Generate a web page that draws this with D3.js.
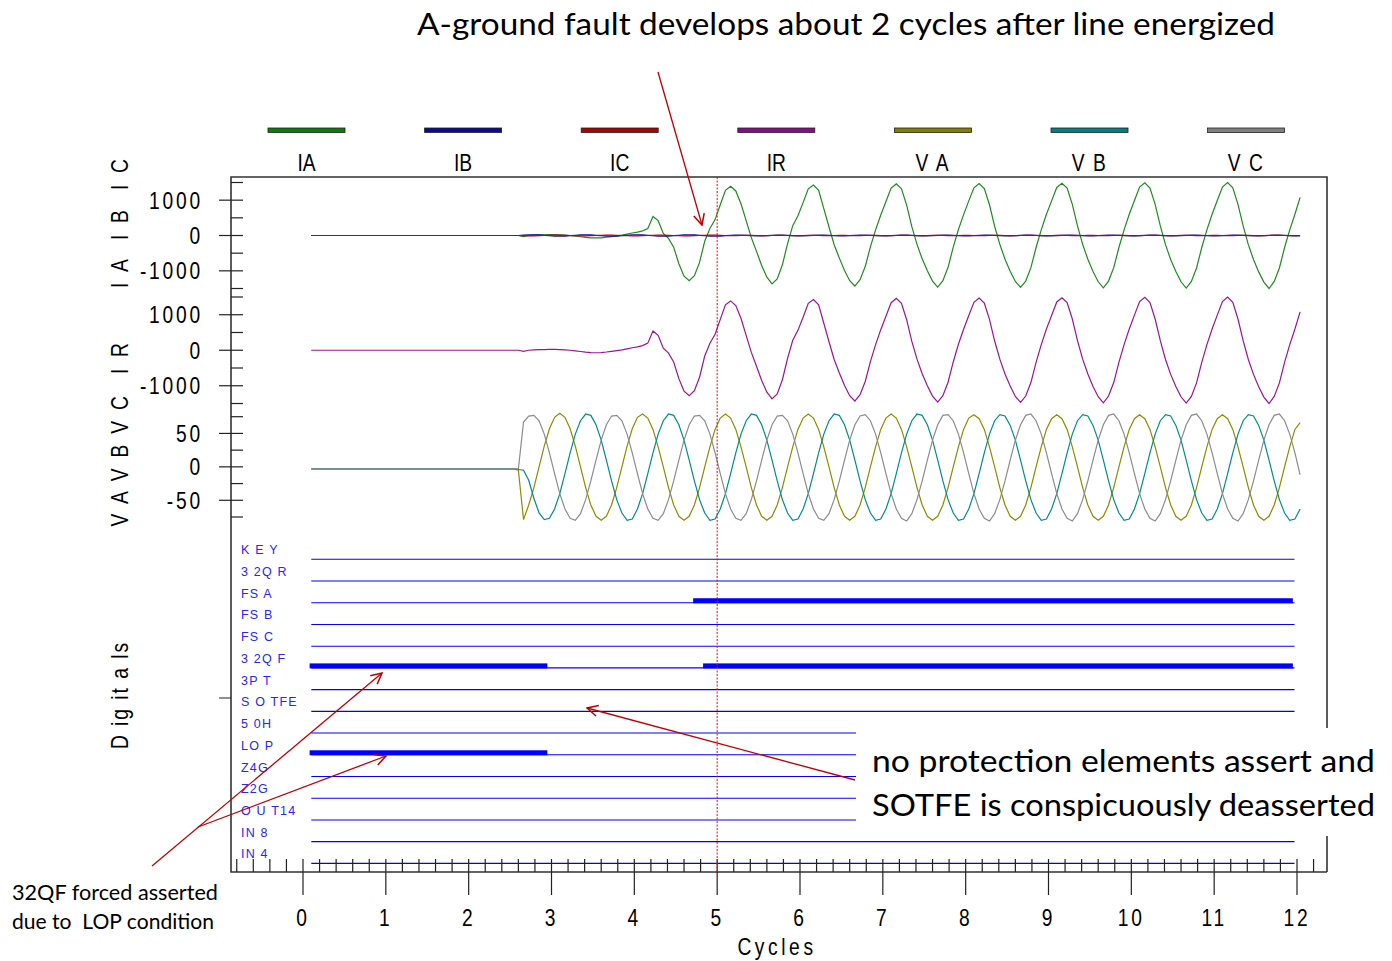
<!DOCTYPE html>
<html><head><meta charset="utf-8">
<script src="https://cdn.jsdelivr.net/npm/d3@7"></script>
<style>
body{margin:0;background:#fff}
svg{display:block}
.nar{font-family:'Liberation Sans',Arial,sans-serif}
.note{font-family:Lato,'Open Sans',sans-serif}
</style></head><body>
<div id="chart"></div>
<script>
// event report, 16 samples per cycle, first sample at 0.1 cycles
const t0 = 0.1, spc = 16;

const IA = [
  0,0,0,0,0,0,0,0,0,0,0,0,0,0,0,0,
  0,0,0,0,0,0,0,0,0,0,0,0,0,0,0,0,
  0,0,0,0,0,0,0,0,0,-30,0,10,15,20,25,25,
  20,10,0,-15,-35,-55,-65,-70,-65,-50,-30,-10,10,40,70,95,
  130,200,540,420,60,-80,-330,-800,-1150,-1280,-1140,-760,-160,200,450,870,
  1280,1390,1260,900,420,-60,-450,-850,-1180,-1370,-1230,-830,-230,280,560,930,
  1320,1430,1280,760,240,-260,-640,-990,-1280,-1430,-1250,-880,-320,160,580,960,
  1340,1460,1320,860,250,-250,-660,-1000,-1290,-1460,
  -1280,-900,-330,170,590,980,1350,1470,1330,870,260,-250,-670,-1010,-1300,-1470,
  -1290,-910,-340,160,600,980,1360,1480,1340,880,270,-250,-670,-1020,-1310,-1480,
  -1290,-910,-340,160,600,990,1370,1490,1340,880,270,-260,-680,-1020,-1310,-1490,
  -1300,-920,-340,160,600,990,1370,1500,1350,880,270,-260,-680,-1030,-1320,-1500,
  -1300,-920,-340,160,600,1080
];
const IB = [
  0,0,0,0,0,0,0,0,0,0,0,0,0,0,0,0,
  0,0,0,0,0,0,0,0,0,0,0,0,0,0,0,0,
  0,0,0,0,0,0,0,0,0,10,15,20,15,5,-5,-15,
  -20,-15,-5,5,15,20,15,5,-5,-15,-20,-15,-5,5,15,20,
  15,5,-5,-15,-20,-15,-5,5,15,20,15,5,-5,-15,-20,-15,
  -5,5,10,10,5,-5,-10,-10,-5,5,10,10,5,-5,-10,-10,
  -5,5,10,10,5,-5,-10,-10,-5,5,10,10,5,-5,-10,-10,
  -5,5,10,10,5,-5,-10,-10,-5,5,10,10,5,-5,-10,-10,
  -5,5,10,10,5,-5,-10,-10,-5,5,10,10,5,-5,-10,-10,
  -5,5,10,10,5,-5,-10,-10,-5,5,10,10,5,-5,-10,-10,
  -5,5,10,10,5,-5,-10,-10,-5,5,10,10,5,-5,-10,-10,
  -5,5,10,10,5,-5,-10,-10,-5,5,10,10,5,-5,-10,-10
];
const IC = [
  0,0,0,0,0,0,0,0,0,0,0,0,0,0,0,0,
  0,0,0,0,0,0,0,0,0,0,0,0,0,0,0,0,
  0,0,0,0,0,0,0,0,0,-5,-10,-10,-5,0,5,10,
  10,5,0,-5,-10,-10,-5,0,5,10,10,5,0,-5,-10,-10,
  -5,0,5,10,10,5,0,-5,-10,-10,-5,0,5,10,10,5,
  0,-5,-5,0,5,5,0,-5,-5,0,5,5,0,-5,-5,0,
  5,5,0,-5,-5,0,5,5,0,-5,-5,0,5,5,0,-5,
  -5,0,5,5,0,-5,-5,0,5,5,0,-5,-5,0,5,5,
  0,-5,-5,0,5,5,0,-5,-5,0,5,5,0,-5,-5,0,
  5,5,0,-5,-5,0,5,5,0,-5,-5,0,5,5,0,-5,
  -5,0,5,5,0,-5,-5,0,5,5,0,-5,-5,0,5,5,
  0,-5,-5,0,5,5,0,-5,-5,0,5,5,0,-5,-5,0
];
const IR = [
  0,0,0,0,0,0,0,0,0,0,0,0,0,0,0,0,
  0,0,0,0,0,0,0,0,0,0,0,0,0,0,0,0,
  0,0,0,0,0,0,0,0,0,-30,0,10,15,20,25,25,
  20,10,0,-15,-35,-55,-65,-70,-65,-50,-30,-10,10,40,70,95,
  130,200,540,420,60,-80,-330,-800,-1150,-1280,-1140,-760,-160,200,450,870,
  1280,1390,1260,900,420,-60,-450,-850,-1180,-1370,-1230,-830,-230,280,560,930,
  1320,1430,1280,760,240,-260,-640,-990,-1280,-1430,-1250,-880,-320,160,580,960,
  1340,1460,1320,860,250,-250,-660,-1000,-1290,-1460,
  -1280,-900,-330,170,590,980,1350,1470,1330,870,260,-250,-670,-1010,-1300,-1470,
  -1290,-910,-340,160,600,980,1360,1480,1340,880,270,-250,-670,-1020,-1310,-1480,
  -1290,-910,-340,160,600,990,1370,1490,1340,880,270,-260,-680,-1020,-1310,-1490,
  -1300,-920,-340,160,600,990,1370,1500,1350,880,270,-260,-680,-1030,-1320,-1500,
  -1300,-920,-340,160,600,1080
];
const VA = [
  -3,-3,-3,-3,-3,-3,-3,-3,-3,-3,-3,-3,-3,-3,-3,-3,
  -3,-3,-3,-3,-3,-3,-3,-3,-3,-3,-3,-3,-3,-3,-3,-3,
  -3,-3,-3,-3,-3,-3,-3,-3,-5,-79,-57,-31,0,31,57,74,
  80,74,57,31,0,-31,-57,-74,-80,-74,-57,-31,0,31,57,74,
  79,73,56,30,0,-31,-57,-74,-80,-74,-57,-31,0,30,56,73,
  79,73,56,30,0,-31,-57,-74,-80,-74,-57,-31,0,30,56,73,
  79,73,56,30,0,-31,-57,-74,-80,-74,-57,-31,0,30,56,73,
  79,73,56,30,0,-31,-57,-74,-80,-74,-57,-31,0,30,56,73,
  78,72,56,30,0,-31,-57,-74,-80,-74,-57,-31,0,30,56,72,
  78,72,56,30,0,-31,-57,-74,-80,-74,-57,-31,0,30,56,72,
  78,72,56,30,0,-31,-57,-74,-80,-74,-57,-31,0,30,56,72,
  78,72,56,30,0,-31,-57,-74,-80,-74,-57,-31,0,30,56,66
];
const VB = [
  -3,-3,-3,-3,-3,-3,-3,-3,-3,-3,-3,-3,-3,-3,-3,-3,
  -3,-3,-3,-3,-3,-3,-3,-3,-3,-3,-3,-3,-3,-3,-3,-3,
  -3,-3,-3,-3,-3,-3,-3,-3,-4,-5,-20,-47,-69,-79,-77,-63,
  -40,-10,21,49,69,79,77,63,40,10,-21,-49,-69,-80,-78,-63,
  -40,-10,21,49,69,79,77,63,40,10,-21,-49,-69,-80,-78,-63,
  -40,-10,21,49,69,79,77,63,40,10,-21,-49,-69,-80,-78,-63,
  -40,-10,21,49,69,79,77,63,40,10,-21,-49,-69,-80,-78,-63,
  -40,-10,21,49,69,79,77,63,40,10,-21,-49,-69,-80,-78,-63,
  -40,-10,21,49,69,78,76,62,40,10,-21,-49,-69,-80,-78,-63,
  -40,-10,21,49,69,78,76,62,40,10,-21,-49,-69,-80,-78,-63,
  -40,-10,21,49,69,78,76,62,40,10,-21,-49,-69,-80,-78,-63,
  -40,-10,21,49,69,78,76,62,40,10,-21,-49,-69,-80,-78,-63
];
const VC = [
  -3,-3,-3,-3,-3,-3,-3,-3,-3,-3,-3,-3,-3,-3,-3,-3,
  -3,-3,-3,-3,-3,-3,-3,-3,-3,-3,-3,-3,-3,-3,-3,-3,
  -3,-3,-3,-3,-3,-3,-3,-3,-3,67,76,77,69,49,21,-10,
  -40,-63,-77,-80,-70,-49,-21,10,40,63,76,77,69,49,21,-10,
  -40,-63,-77,-80,-70,-49,-21,10,40,63,76,77,69,49,21,-10,
  -40,-63,-77,-80,-70,-49,-21,10,40,63,76,77,69,49,21,-10,
  -40,-63,-77,-80,-70,-49,-21,10,40,63,76,78,69,49,21,-10,
  -40,-63,-77,-81,-70,-49,-21,10,40,63,77,78,69,49,21,-10,
  -40,-63,-77,-81,-70,-49,-21,10,40,63,77,79,69,49,21,-10,
  -40,-63,-77,-81,-70,-49,-21,10,40,63,77,79,69,49,21,-10,
  -40,-63,-77,-81,-70,-49,-21,10,40,63,77,79,69,49,21,-10,
  -40,-63,-77,-81,-70,-49,-21,10,40,63,77,79,69,49,21,-12
];

const legendNames = ['IA','IB','IC','IR','V A','V B','V C'];
const colors = {IA:'#1e8c1e', IB:'#101090', IC:'#c00000', IR:'#9a149a', VA:'#8c8c00', VB:'#008c8c', VC:'#8c8c8c'};
const legendColors = ['#0b7d0b','#0a0a9a','#b00000','#8b0a8b','#808000','#008080','#808080'];

const digLabels = ['K E Y','3 2Q R','FS A','FS B','FS C','3 2Q F','3P T','S O TFE','5 0H','LO P','Z4G','Z2G','O U T14','IN 8','IN 4'];
// asserted intervals in cycles, by row
const digOn = [[],[],[[4.71,11.95]],[],[],[[0.08,2.95],[4.83,11.95]],[],[],[],[[0.08,2.95]],[],[],[],[],[]];

const xTicks = d3.range(0,13);
const faultCycle = 5;

const W = 1392, H = 961;
const svg = d3.select('#chart').append('svg').attr('width',W).attr('height',H);

const F = {l:231, t:177, r:1327, b:872};
const x = d3.scaleLinear().domain([0,12]).range([303,1297]);
const tOf = i => t0 + i/spc;

// Arial-Narrow look: Liberation Sans squeezed horizontally
function narrow(g, tx, ty, str, anchor, size, ls, rot) {
  return g.append('text').attr('class','nar')
    .attr('transform',`translate(${tx},${ty})` + (rot ? ` rotate(${rot})` : '') + ' scale(0.8,1)')
    .attr('text-anchor',anchor).attr('font-size',size).attr('letter-spacing',ls)
    .style('white-space','pre').text(str);
}

const panels = [
  {title:'I A  I B  I C', ls:4, ty:222, y:d3.scaleLinear().domain([-1500,1500]).range([288.5,182.5]),
   major:[1000,0,-1000], minor:d3.range(-1500,1501,500), series:[['IA',IA],['IB',IB],['IC',IC]]},
  {title:'I R', ls:4, ty:357, y:d3.scaleLinear().domain([-1500,1500]).range([403.5,297]),
   major:[1000,0,-1000], minor:d3.range(-1500,1501,500), series:[['IR',IR]]},
  {title:'V A V B V C', ls:3.5, ty:460, y:d3.scaleLinear().domain([-75,75]).range([517,416.7]),
   major:[50,0,-50], minor:d3.range(-75,76,25), series:[['VA',VA],['VB',VB],['VC',VC]]}
];

// legend
const lg = svg.append('g');
legendNames.forEach((n,i) => {
  const cx = 306.5 + i*156.6;
  lg.append('rect').attr('x',cx-38.5).attr('y',128).attr('width',77).attr('height',4.5)
    .attr('fill',legendColors[i]).attr('stroke','#222').attr('stroke-width',0.8);
  narrow(lg, cx, 171, n, 'middle', 24, n.length > 2 ? 2 : 0);
});

// frame
svg.append('path').attr('fill','none').attr('stroke','#333').attr('stroke-width',1.6)
  .attr('d',`M${F.r},${F.b}V${F.t}H${F.l}V${F.b}H${F.r}`);

// y axes
panels.forEach(p => {
  const g = svg.append('g');
  g.selectAll('.mn').data(p.minor).join('line')
    .attr('x1',F.l).attr('x2',F.l+12).attr('y1',d=>p.y(d)).attr('y2',d=>p.y(d))
    .attr('stroke','#222').attr('stroke-width',1.2);
  g.selectAll('.mj').data(p.major).join('line')
    .attr('x1',F.l-12).attr('x2',F.l).attr('y1',d=>p.y(d)).attr('y2',d=>p.y(d))
    .attr('stroke','#222').attr('stroke-width',1.2);
  p.major.forEach(v => narrow(g, 203, p.y(v)+8.5, String(v), 'end', 24, 3.5));
  narrow(svg, 128, p.ty, p.title, 'middle', 24, p.ls, -90);
});
narrow(svg, 128, 695, 'D ig it a ls', 'middle', 24, 2.5, -90);
svg.append('line').attr('x1',F.l-12).attr('x2',F.l).attr('y1',698).attr('y2',698).attr('stroke','#222');

// traces
panels.forEach(p => {
  p.series.forEach(([name,vals]) => {
    const line = d3.line().x((d,i)=>x(tOf(i))).y(d=>p.y(d));
    svg.append('path').attr('d',line(vals)).attr('fill','none')
      .attr('stroke',colors[name]).attr('stroke-width',1.2);
  });
});

// digitals
const rowY = i => 559.3 + i*21.72;
const dg = svg.append('g');
digLabels.forEach((lab,i) => {
  dg.append('text').attr('x',241).attr('y',rowY(i)-5).attr('fill','#2828f0')
    .attr('font-family','Liberation Sans, Arial, sans-serif').attr('font-size',12.5)
    .attr('letter-spacing',1.2).text(lab);
  dg.append('line').attr('x1',x(0.1)).attr('x2',x(11.97)).attr('y1',rowY(i)).attr('y2',rowY(i))
    .attr('stroke','#0000ff').attr('stroke-width',1.1);
  digOn[i].forEach(([a,b]) => {
    dg.append('rect').attr('x',x(a)).attr('width',x(b)-x(a)).attr('y',rowY(i)-4.5).attr('height',5)
      .attr('fill','#0000ff');
  });
});

// x axis
const minorX = d3.range(-4,62).map(d=>d/5);
svg.append('g').selectAll('line').data(minorX).join('line')
  .attr('x1',d=>x(d)).attr('x2',d=>x(d)).attr('y1',F.b-13).attr('y2',F.b)
  .attr('stroke','#222').attr('stroke-width',1.2);
svg.append('g').selectAll('line').data(xTicks).join('line')
  .attr('x1',d=>x(d)).attr('x2',d=>x(d)).attr('y1',F.b).attr('y2',F.b+23)
  .attr('stroke','#222').attr('stroke-width',1.2);
const xg = svg.append('g');
xTicks.forEach(v => narrow(xg, x(v), 926, String(v), 'middle', 24, 3.5));
narrow(svg, 777, 955, 'Cycles', 'middle', 24, 4.5);

// fault marker
svg.append('line').attr('x1',x(faultCycle)).attr('x2',x(faultCycle)).attr('y1',F.t).attr('y2',F.b)
  .attr('stroke','#ff0000').attr('stroke-width',1).attr('stroke-dasharray','2,1.5');

// annotations
svg.append('defs').append('marker').attr('id','ah').attr('viewBox','0 0 12 12')
  .attr('refX',11).attr('refY',6).attr('markerWidth',13).attr('markerHeight',13)
  .attr('markerUnits','userSpaceOnUse').attr('orient','auto')
  .append('path').attr('d','M1,1L11,6L1,11').attr('fill','none').attr('stroke','#c00000').attr('stroke-width',1.4);

svg.append('rect').attr('x',856).attr('y',728).attr('width',W-856).attr('height',108).attr('fill','#fff');

const arrows = [[658,72,702,225],[855,780,587,708],[152,866,382,673],[198,827,386,756]];
arrows.forEach(([a,b,c,d]) => {
  svg.append('line').attr('x1',a).attr('y1',b).attr('x2',c).attr('y2',d)
    .attr('stroke','#c00000').attr('stroke-width',1.3).attr('marker-end','url(#ah)');
});

function note(tx, ty, size, len, str) {
  svg.append('text').attr('class','note').attr('x',tx).attr('y',ty).attr('font-size',size)
    .attr('textLength',len).attr('lengthAdjust','spacingAndGlyphs').style('white-space','pre').text(str);
}
note(417, 35, 31, 858, 'A-ground fault develops about 2 cycles after line energized');
note(872, 772, 31, 503, 'no protection elements assert and');
note(872, 816, 31, 503, 'SOTFE is conspicuously deasserted');
note(12, 900, 20.5, 206, '32QF forced asserted');
note(12, 929, 20.5, 202, 'due to  LOP condition');
</script></body></html>
